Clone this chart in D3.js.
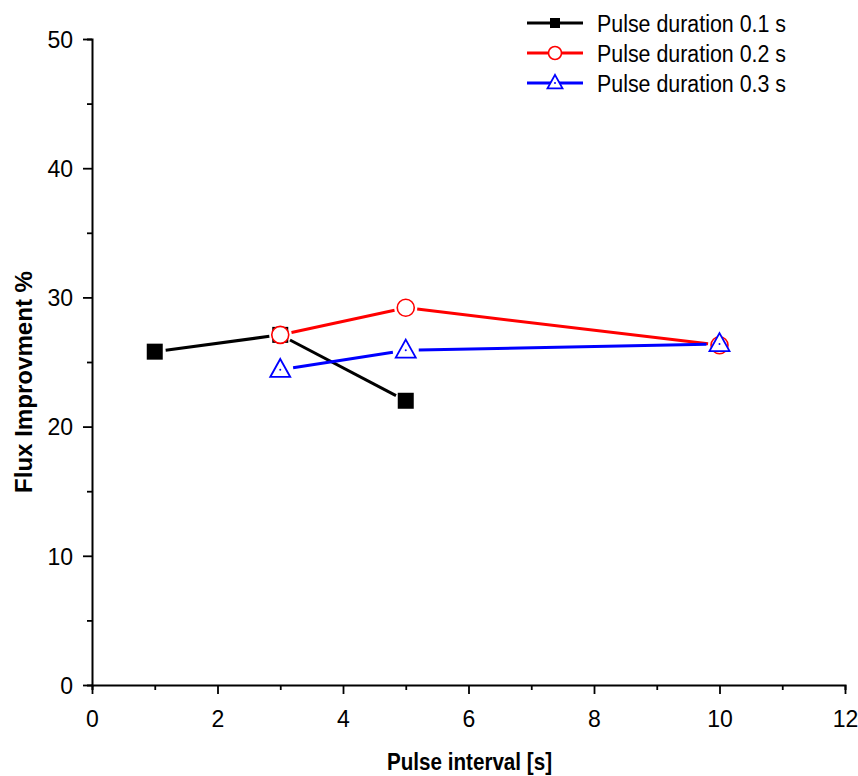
<!DOCTYPE html>
<html><head><meta charset="utf-8">
<script src="https://cdn.jsdelivr.net/npm/d3@7"></script>
<style>body{margin:0;background:#fff}svg{display:block}text{font-family:"Liberation Sans",Arial,sans-serif}</style>
</head><body>
<svg id="c" width="858" height="776"></svg>
<script>
const seriesNames = ["Pulse duration 0.1 s","Pulse duration 0.2 s","Pulse duration 0.3 s"];
const xs1 = [1,3,5];      const ys1 = [25.8,27.1,22.0];
const xs2 = [3,5,10];     const ys2 = [27.1,29.2,26.3];
const xs3 = [3,5,10];     const ys3 = [24.4,25.9,26.4];
const xTicks = [0,2,4,6,8,10,12];
const yTicks = [0,10,20,30,40,50];
const xLabel = "Pulse interval [s]";
const yLabel = "Flux Improvment %";

const colors = ["#000000","#ff0000","#0000ff"];
const shapes = ["square","circle","triangle"];
const series = [[xs1,ys1],[xs2,ys2],[xs3,ys3]].map((d,i)=>({name:seriesNames[i],color:colors[i],shape:shapes[i],pts:d[0].map((x,j)=>({x,y:d[1][j]}))}));

const svg = d3.select("#c");
const L=92,R=845,T=39,B=685;
const x = d3.scaleLinear().domain([0,12]).range([L,R]);
const y = d3.scaleLinear().domain([0,50]).range([B,T]);

// axes
const xAxis = svg.append("g").attr("transform",`translate(0,${B})`);
xAxis.call(d3.axisBottom(x).tickValues(d3.range(0,13,1)).tickSize(5).tickFormat(""));
xAxis.call(g=>g.selectAll(".tick").filter(d=>xTicks.includes(d)).select("line").attr("y2",9));
xAxis.selectAll(".tick").filter(d=>xTicks.includes(d)).append("text").attr("y",42).attr("fill","#000").attr("font-size",23).attr("text-anchor","middle").text(d=>d);
const yAxis = svg.append("g").attr("transform",`translate(${L},0)`);
yAxis.call(d3.axisLeft(y).tickValues(d3.range(0,51,5)).tickSize(5).tickFormat(""));
yAxis.call(g=>g.selectAll(".tick").filter(d=>yTicks.includes(d)).select("line").attr("x2",-9));
yAxis.selectAll(".tick").filter(d=>yTicks.includes(d)).append("text").attr("x",-19).attr("dy","0.36em").attr("fill","#000").attr("font-size",23).attr("text-anchor","end").text(d=>d);
svg.selectAll(".domain").attr("stroke","#000").attr("stroke-width",2);
svg.selectAll(".tick line").attr("stroke","#000").attr("stroke-width",1.8);

svg.append("text").attr("x",387).attr("y",770).attr("font-weight","bold").attr("font-size",23)
  .attr("textLength",165).attr("lengthAdjust","spacingAndGlyphs").text(xLabel);
svg.append("text").attr("transform","translate(32,493) rotate(-90)").attr("font-weight","bold").attr("font-size",23)
  .attr("textLength",222).attr("lengthAdjust","spacingAndGlyphs").text(yLabel);

function marker(g,shape,cx,cy,s,color){
  if(shape==="square"){
    g.append("rect").attr("x",cx-s/2).attr("y",cy-s/2).attr("width",s).attr("height",s).attr("fill",color);
  } else if(shape==="circle"){
    g.append("circle").attr("cx",cx).attr("cy",cy).attr("r",s/2).attr("fill","#fff").attr("stroke",color).attr("stroke-width",1.6);
  } else {
    const h=s*0.9, w=s;
    g.append("path").attr("d",`M${cx},${cy-h*0.6}L${cx+w/2},${cy+h*0.4}L${cx-w/2},${cy+h*0.4}Z`).attr("fill","#fff").attr("stroke",color).attr("stroke-width",1.8);
    g.append("circle").attr("cx",cx).attr("cy",cy).attr("r",1).attr("fill",color);
  }
}
const sizes={square:16,circle:17,triangle:20};

series.forEach(s=>{
  const g=svg.append("g");
  const gap = sizes[s.shape]/2+3;
  for(let i=0;i<s.pts.length-1;i++){
    const x1=x(s.pts[i].x),y1=y(s.pts[i].y),x2=x(s.pts[i+1].x),y2=y(s.pts[i+1].y);
    const dx=x2-x1,dy=y2-y1,len=Math.hypot(dx,dy),ux=dx/len,uy=dy/len;
    g.append("line").attr("x1",x1+ux*gap).attr("y1",y1+uy*gap).attr("x2",x2-ux*gap).attr("y2",y2-uy*gap)
      .attr("stroke",s.color).attr("stroke-width",3);
  }
});
series.forEach(s=>{
  const g=svg.append("g");
  s.pts.forEach(p=>marker(g,s.shape,x(p.x),y(p.y),sizes[s.shape],s.color));
});

// legend
const lg=svg.append("g");
series.forEach((s,i)=>{
  const ly=23+i*30;
  lg.append("line").attr("x1",527).attr("x2",583).attr("y1",ly).attr("y2",ly).attr("stroke",s.color).attr("stroke-width",3);
  marker(lg,s.shape,555,ly,{square:10,circle:13,triangle:15}[s.shape],s.color);
  lg.append("text").attr("x",597).attr("y",ly+9).attr("font-size",23)
    .attr("textLength",189).attr("lengthAdjust","spacingAndGlyphs").text(s.name);
});
</script>
</body></html>
